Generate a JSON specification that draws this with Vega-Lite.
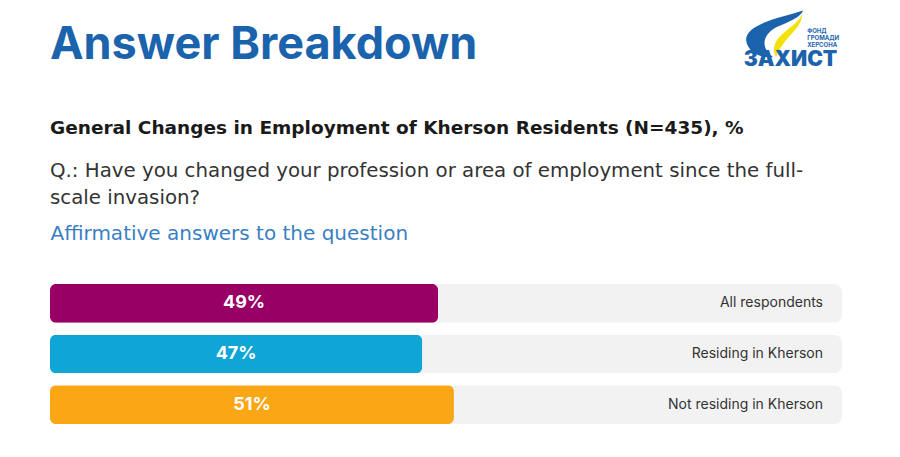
{
  "$schema": "https://vega.github.io/schema/vega-lite/v6.json",
  "background": "white",
  "padding": {"left": 50, "top": 10, "right": 0, "bottom": 0},
  "config": {
    "font": "Inter",
    "view": {"stroke": null},
    "concat": {"spacing": 33}
  },
  "vconcat": [
    {
      "width": 792,
      "height": 75,
      "data": {"values": [{"k": 1}]},
      "layer": [
        {
          "mark": {"type": "text", "text": "Answer Breakdown", "align": "left", "baseline": "alphabetic", "fontSize": 45, "fontWeight": "bold", "color": "#1c63ad", "font": "Inter"},
          "encoding": {
            "x": {"datum": 0, "type": "quantitative", "scale": {"domain": [0, 100]}, "axis": null},
            "y": {"datum": 52, "type": "quantitative", "scale": {"domain": [75, 0]}, "axis": null}
          }
        },
        {
          "mark": {"type": "point", "filled": true, "color": "#1c63ad", "opacity": 1, "size": 3600,
            "shape": "M0.95,-0.8 C0.35,-0.6 -1,-0.36 -0.95,0.2 C-0.9,0.6 -0.45,0.8 -0.05,0.76 C-0.45,0.48 -0.45,0.04 0.05,-0.24 C0.5,-0.44 0.85,-0.56 0.95,-0.8 Z"},
          "encoding": {
            "x": {"datum": 91.5, "type": "quantitative"},
            "y": {"datum": 26, "type": "quantitative"}
          }
        },
        {
          "mark": {"type": "point", "filled": true, "color": "#f5e10a", "opacity": 1, "size": 3600,
            "shape": "M0.92,-0.72 C0.85,-0.36 0.3,-0.16 0.05,0.24 C-0.08,0.48 -0.02,0.64 0.05,0.76 C0.15,0.44 0.4,0.16 0.62,-0.08 C0.85,-0.32 0.92,-0.52 0.92,-0.72 Z"},
          "encoding": {
            "x": {"datum": 91.5, "type": "quantitative"},
            "y": {"datum": 26, "type": "quantitative"}
          }
        },
        {
          "mark": {"type": "text", "text": "ЗАХИСТ", "align": "right", "baseline": "alphabetic", "fontSize": 21, "fontWeight": 900, "color": "#1c63ad", "font": "Inter"},
          "encoding": {
            "x": {"datum": 99.4, "type": "quantitative"},
            "y": {"datum": 60, "type": "quantitative"}
          }
        },
        {
          "mark": {"type": "text", "text": ["ФОНД", "ГРОМАДИ", "ХЕРСОНА"], "lineHeight": 7, "align": "left", "baseline": "alphabetic", "fontSize": 6, "fontWeight": "bold", "color": "#1c63ad", "font": "Inter"},
          "encoding": {
            "x": {"datum": 95.6, "type": "quantitative"},
            "y": {"datum": 24, "type": "quantitative"}
          }
        }
      ]
    },
    {
      "width": 792,
      "height": 140,
      "title": {
        "text": "General Changes in Employment of Kherson Residents (N=435), %",
        "subtitle": ["Q.: Have you changed your profession or area of employment since the full-", "scale invasion?"],
        "anchor": "start",
        "font": "DejaVu Sans",
        "fontSize": 18.5,
        "fontWeight": "bold",
        "color": "#1a1a1a",
        "subtitleFont": "DejaVu Sans",
        "subtitleFontSize": 19.8,
        "subtitleColor": "#333333",
        "subtitleLineHeight": 27,
        "subtitlePadding": 24,
        "offset": 15
      },
      "data": {
        "values": [
          {"group": "All respondents", "value": 49, "full": 100, "label": "49%", "color": "#990066"},
          {"group": "Residing in Kherson", "value": 47, "full": 100, "label": "47%", "color": "#0fa5d5"},
          {"group": "Not residing in Kherson", "value": 51, "full": 100, "label": "51%", "color": "#fba615"}
        ]
      },
      "encoding": {
        "y": {"field": "group", "type": "nominal", "sort": null, "axis": null,
          "scale": {"paddingInner": 0.235, "paddingOuter": 0}}
      },
      "layer": [
        {
          "mark": {"type": "bar", "color": "#f2f2f2", "cornerRadius": 8},
          "encoding": {
            "x": {"field": "full", "type": "quantitative", "scale": {"domain": [0, 100]},
              "axis": {"orient": "top", "title": "Affirmative answers to the question", "titleFont": "DejaVu Sans", "titleFontSize": 20, "titleFontWeight": "normal", "titleColor": "#3a7fc4", "titleAnchor": "start", "titleAlign": "left", "titlePadding": 41, "labels": false, "ticks": false, "domain": false, "grid": false}}
          }
        },
        {
          "mark": {"type": "bar", "cornerRadius": 6},
          "encoding": {
            "x": {"field": "value", "type": "quantitative"},
            "color": {"field": "color", "type": "nominal", "scale": null, "legend": null}
          }
        },
        {
          "transform": [{"calculate": "datum.value / 2", "as": "mid"}],
          "mark": {"type": "text", "color": "white", "fontSize": 18, "fontWeight": "bold", "font": "Inter", "align": "center", "baseline": "middle"},
          "encoding": {
            "x": {"field": "mid", "type": "quantitative"},
            "text": {"field": "label"}
          }
        },
        {
          "mark": {"type": "text", "color": "#333333", "fontSize": 14, "font": "Inter", "align": "right", "baseline": "middle", "dx": -19},
          "encoding": {
            "x": {"field": "full", "type": "quantitative"},
            "text": {"field": "group"}
          }
        }
      ]
    }
  ]
}
